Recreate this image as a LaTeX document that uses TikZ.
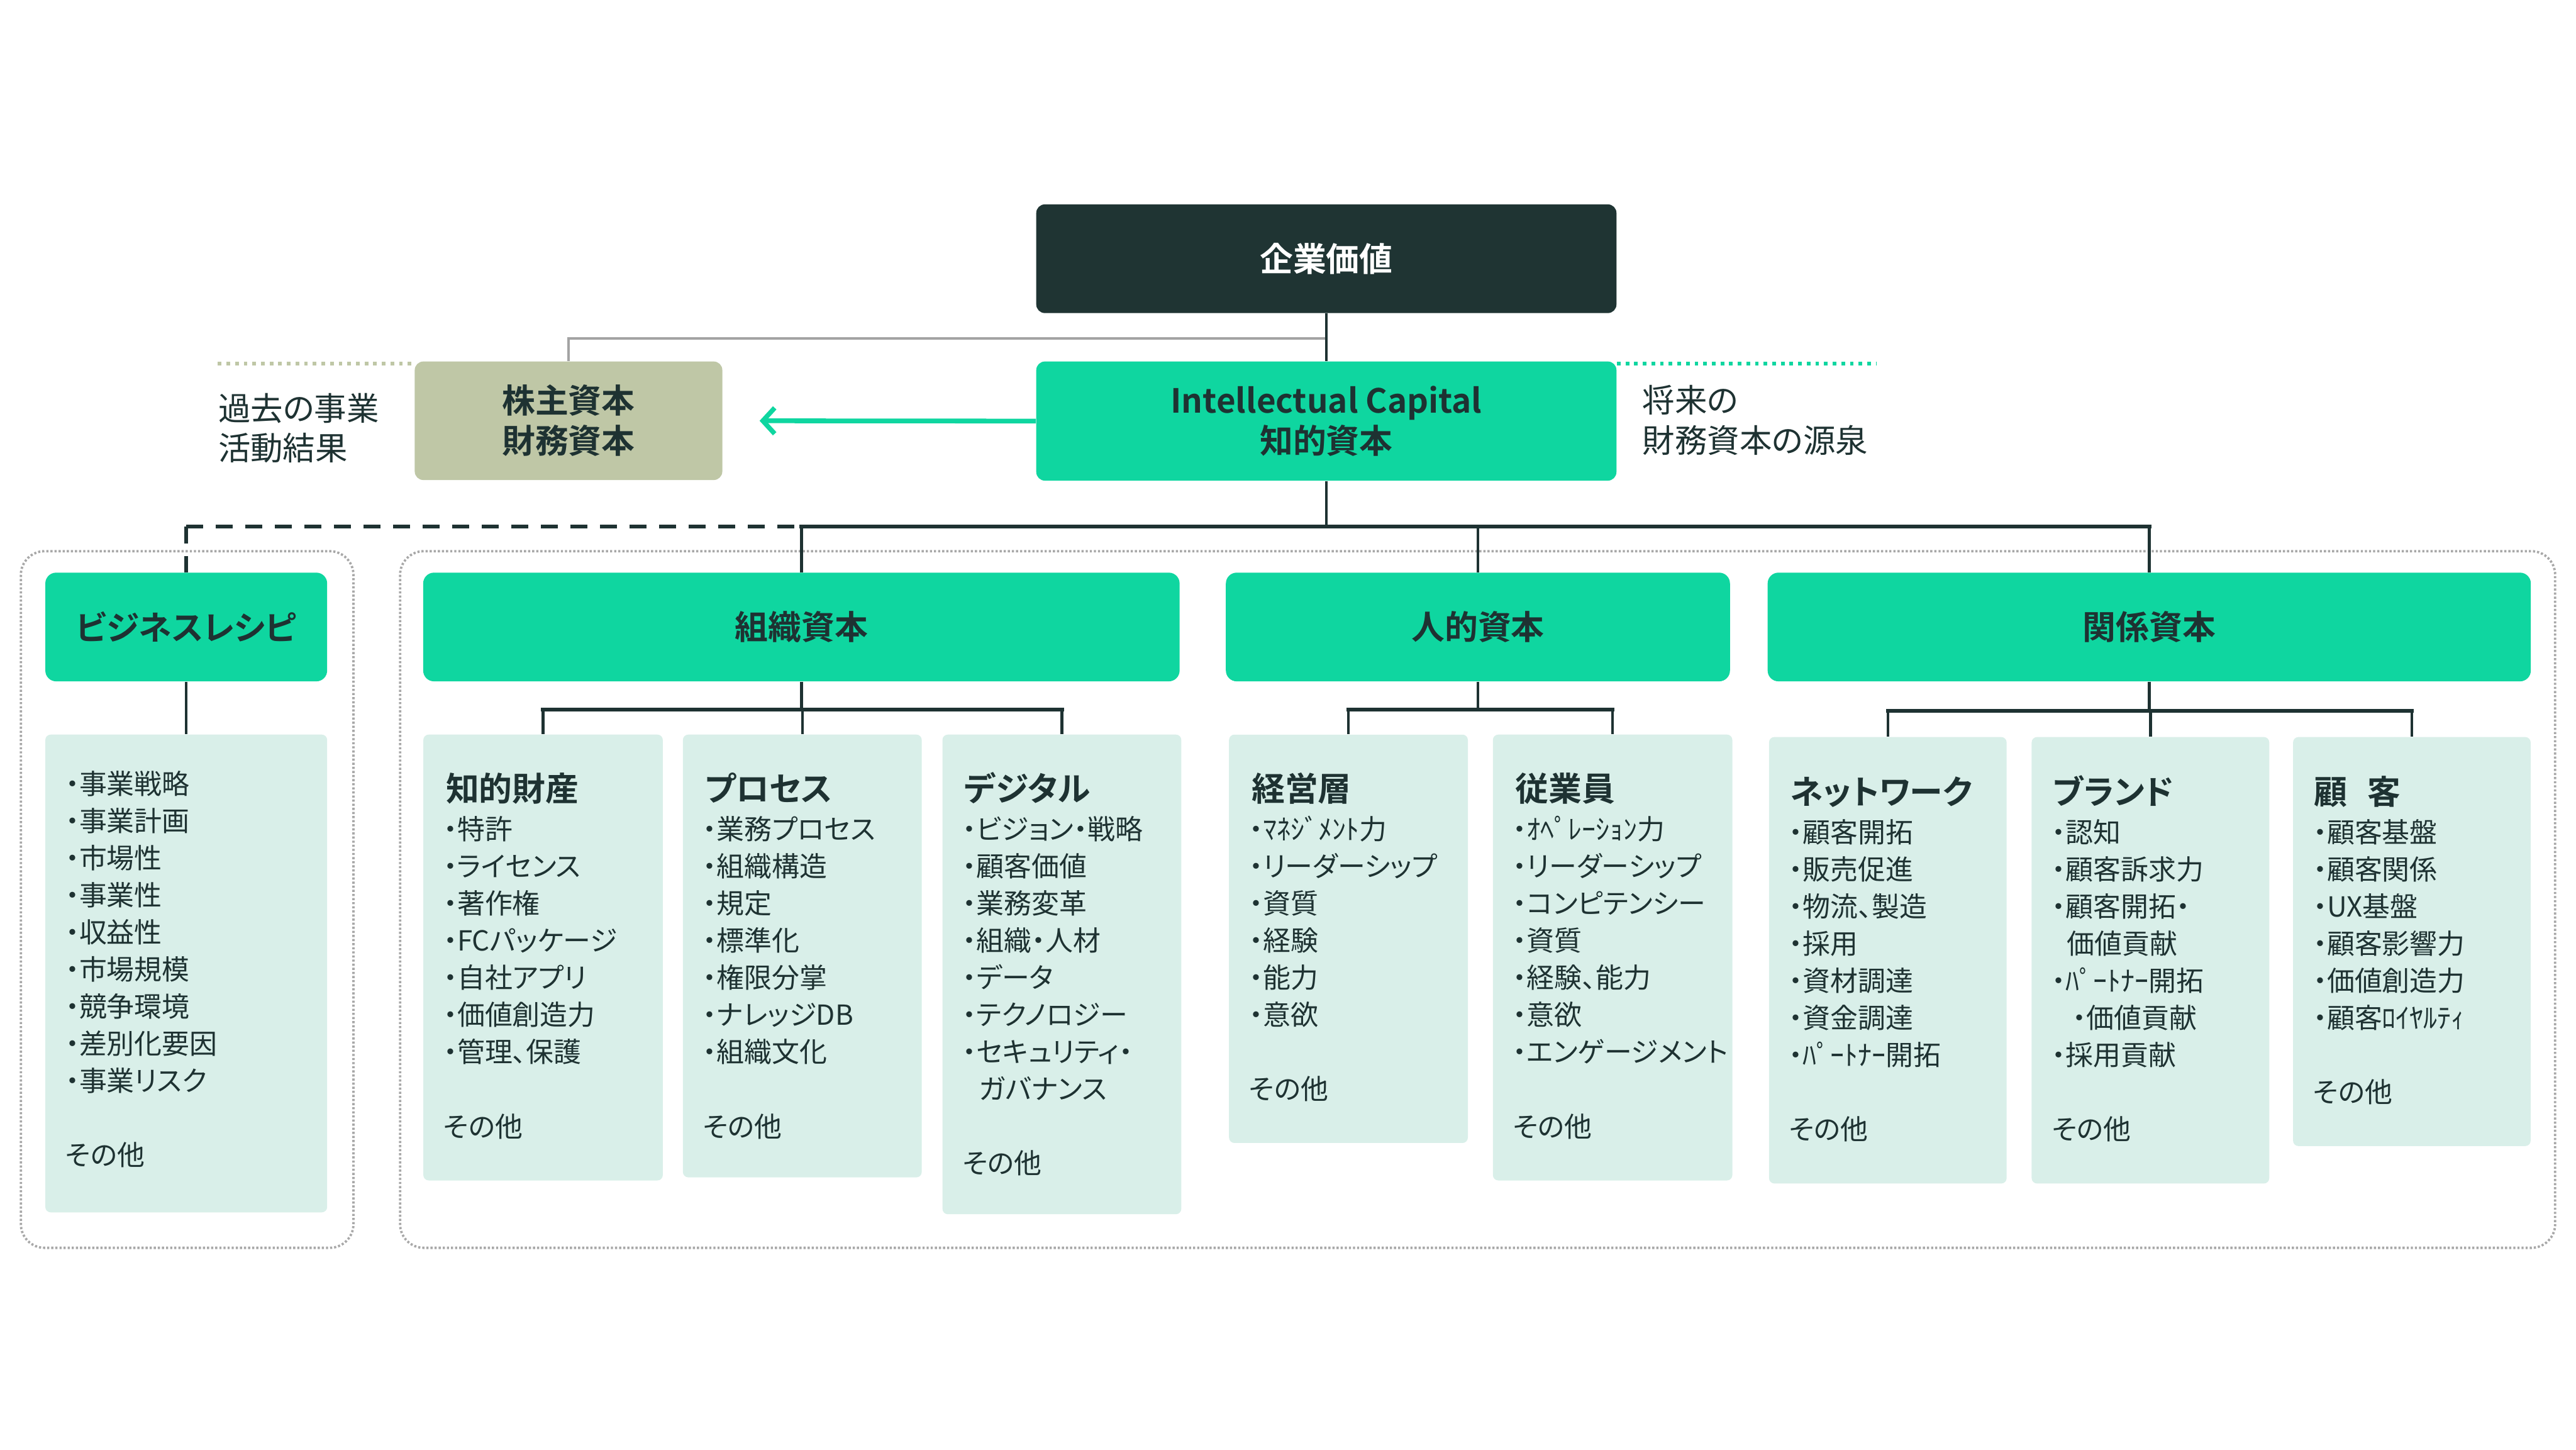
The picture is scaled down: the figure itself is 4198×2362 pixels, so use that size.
\documentclass[tikz,border=0pt]{standalone}
\usepackage{fontspec}
\setmainfont{Noto Sans CJK JP}[RawFeature={+palt}, BoldFont={* Bold}]
\usepackage{xcolor}
\usetikzlibrary{arrows.meta,positioning}
\definecolor{valdark}{HTML}{1F3433}
\definecolor{icgreen}{HTML}{0FD6A0}
\definecolor{finolive}{HTML}{BFC7A6}
\definecolor{listmint}{HTML}{D9EFE9}
\definecolor{inkdark}{HTML}{1E3232}
\definecolor{linkgray}{HTML}{A3A3A3}
\definecolor{framegray}{HTML}{A8A8A8}
\newcommand{\hdfont}{\fontsize{15.4}{18.6}\selectfont}
\newcommand{\lsfont}{\fontsize{12.8}{17.2}\selectfont}
\tikzset{
  valbox/.style={fill=valdark, rounded corners=4pt, inner sep=0pt, text=white, font=\hdfont\bfseries},
  icbox/.style={fill=icgreen, rounded corners=4pt, inner sep=0pt, align=center, text=inkdark, font=\hdfont\bfseries},
  finbox/.style={fill=finolive, rounded corners=4pt, inner sep=0pt, align=center, text=inkdark, font=\hdfont\bfseries},
  headbox/.style={fill=icgreen, rounded corners=5pt, inner sep=0pt, minimum height=1.77cm, text=inkdark, font=\hdfont\bfseries},
  listbox/.style={fill=listmint, rounded corners=2.5pt, inner sep=0pt},
  coltitle/.style={anchor=base west, inner sep=0pt, text=inkdark, font=\hdfont\bfseries},
  % multi-line: base anchor sits on the last line (その他)
  coltext/.style={anchor=base west, inner sep=0pt, align=left, text=inkdark, font=\lsfont},
  sidetxt/.style={anchor=west, inner sep=0pt, align=left, text=inkdark, font=\fontsize{15}{18.5}\selectfont},
  link/.style={draw=inkdark, line width=1.3pt},
  busline/.style={draw=inkdark, line width=1.9pt, line cap=rect},
  dashbus/.style={draw=inkdark, line width=1.8pt, dash pattern=on 7.7pt off 6pt},
  graylink/.style={draw=linkgray, line width=1.2pt},
  pastdots/.style={draw=finolive, line width=1.7pt, dash pattern=on 1.7pt off 2.3pt},
  futuredots/.style={draw=icgreen, line width=1.7pt, dash pattern=on 1.7pt off 2.3pt},
  groupframe/.style={draw=framegray, line width=1.1pt, dash pattern=on 1pt off 0.9pt, rounded corners=11pt},
  arr/.style={-{Straight Barb[length=5.5pt,width=12pt]}, draw=icgreen, line width=2.2pt},
}

\begin{document}
\begin{tikzpicture}[x=0.01cm, y=-0.01cm]
\useasboundingbox (0,0) rectangle (4198,2362);

% dotted group frames
\draw[groupframe] (34,898) rectangle (576,2033);
\draw[groupframe] (652,898) rectangle (4164,2033);

% top row
\node[valbox, minimum width=9.45cm, minimum height=1.77cm] (topval) at (2161.5,421.5) {企業価値};
\node[icbox, minimum width=9.45cm, minimum height=1.94cm] (icap) at (2161.5,686) {Intellectual Capital\\知的資本};
\node[finbox, minimum width=5.01cm, minimum height=1.93cm] (fincap) at (926.5,685.5) {株主資本\\財務資本};
\node[sidetxt] (pasttxt) at (355,697.5) {過去の事業\\活動結果};
\node[sidetxt] (futuretxt) at (2676,684.5) {将来の\\財務資本の源泉};

\coordinate (pastend) at (355,592);
\coordinate (futureend) at (3057,592);
\coordinate (grayjoin) at (2161.5,551);
\draw[pastdots] (pastend) -- (fincap.north west |- pastend);
\draw[futuredots] (icap.north east |- futureend) -- (futureend);
\draw[graylink] (fincap.north) |- (grayjoin);
\draw[link] (topval) -- (icap);
\draw[arr, shorten >=0.6cm] (icap.west) -- (fincap.east);

% capital headers
\node[headbox, minimum width=4.59cm] (bizhead) at (303.5,1021.5) {ビジネスレシピ};
\node[headbox, minimum width=12.32cm] (orghead) at (1306,1021.5) {組織資本};
\node[headbox, minimum width=8.21cm] (humhead) at (2408.5,1021.5) {人的資本};
\node[headbox, minimum width=12.43cm] (relhead) at (3502.5,1021.5) {関係資本};

% bus
\coordinate (bus) at (2161.5,858);
\draw[link] (icap) -- (bus);
\draw[dashbus] (bizhead.north |- bus) -- (bizhead.north);
\draw[dashbus] (bizhead.north |- bus) -- (orghead.north |- bus);
\draw[busline] (orghead.north |- bus) -- (relhead.north |- bus);
\draw[link] (orghead.north |- bus) -- (orghead.north);
\draw[link] (humhead.north |- bus) -- (humhead.north);
\draw[link] (relhead.north |- bus) -- (relhead.north);

% detail boxes
\node[listbox, minimum width=4.59cm, minimum height=7.78cm] (bizlist) at (303.5,1586) {};
\node[listbox, minimum width=3.90cm, minimum height=7.26cm] (iplist) at (885,1560) {};
\node[listbox, minimum width=3.89cm, minimum height=7.21cm] (proclist) at (1307.5,1557.5) {};
\node[listbox, minimum width=3.89cm, minimum height=7.81cm] (digilist) at (1730.5,1587.5) {};
\node[listbox, minimum width=3.89cm, minimum height=6.65cm] (mgmtlist) at (2197.5,1529.5) {};
\node[listbox, minimum width=3.90cm, minimum height=7.26cm] (stafflist) at (2628,1560) {};
\node[listbox, minimum width=3.87cm, minimum height=7.27cm] (netlist) at (3076.5,1564.5) {};
\node[listbox, minimum width=3.87cm, minimum height=7.27cm] (brandlist) at (3504.5,1564.5) {};
\node[listbox, minimum width=3.87cm, minimum height=6.66cm] (custlist) at (3930.5,1534) {};

% brackets
\coordinate (orgbar) at (1306,1156);
\coordinate (humbar) at (2408.5,1156);
\coordinate (relbar) at (3502.5,1158);
\draw[link] (bizhead) -- (bizlist);
\draw[link] (orghead) -- (orgbar);
\draw[link] (humhead) -- (humbar);
\draw[link] (relhead) -- (relbar);
\draw[busline] (iplist.north |- orgbar) -- (digilist.north |- orgbar);
\draw[busline] (mgmtlist.north |- humbar) -- (stafflist.north |- humbar);
\draw[busline] (netlist.north |- relbar) -- (custlist.north |- relbar);
\foreach \c in {iplist,proclist,digilist}
  \draw[link] (\c.north |- orgbar) -- (\c.north);
\foreach \c in {mgmtlist,stafflist}
  \draw[link] (\c.north |- humbar) -- (\c.north);
\foreach \c in {netlist,brandlist,custlist}
  \draw[link] (\c.north |- relbar) -- (\c.north);

% list texts
\node[coltext] (biztxt) at (106,1899) {・事業戦略\\・事業計画\\・市場性\\・事業性\\・収益性\\・市場規模\\・競争環境\\・差別化要因\\・事業リスク\\[17.2pt]その他};

\node[coltitle] (iptitle) at (726,1305) {知的財産};
\node[coltext] (iptxt) at (722,1852) {・特許\\・ライセンス\\・著作権\\・FCパッケージ\\・自社アプリ\\・価値創造力\\・管理、保護\\[17.2pt]その他};

\node[coltitle] (proctitle) at (1148,1305) {プロセス};
\node[coltext] (proctxt) at (1145,1852) {・業務プロセス\\・組織構造\\・規定\\・標準化\\・権限分掌\\・ナレッジDB\\・組織文化\\[17.2pt]その他};

\node[coltitle] (digititle) at (1571,1305) {デジタル};
\node[coltext] (digitxt) at (1568,1912) {・ビジョン・戦略\\・顧客価値\\・業務変革\\・組織・人材\\・データ\\・テクノロジー\\・セキュリティ・\\\hspace{0.6em}ガバナンス\\[17.2pt]その他};

\node[coltitle] (mgmttitle) at (2039,1305) {経営層};
\node[coltext] (mgmttxt) at (2035,1791) {・ﾏﾈｼﾞﾒﾝﾄ力\\・リーダーシップ\\・資質\\・経験\\・能力\\・意欲\\[17.2pt]その他};

\node[coltitle] (stafftitle) at (2469,1305) {従業員};
\node[coltext] (stafftxt) at (2465,1852) {・ｵﾍﾟﾚｰｼｮﾝ力\\・リーダーシップ\\・コンピテンシー\\・資質\\・経験、能力\\・意欲\\・エンゲージメント\\[17.2pt]その他};

\node[coltitle] (nettitle) at (2917,1310) {ネットワーク};
\node[coltext] (nettxt) at (2915,1857) {・顧客開拓\\・販売促進\\・物流、製造\\・採用\\・資材調達\\・資金調達\\・ﾊﾟｰﾄﾅｰ開拓\\[17.2pt]その他};

\node[coltitle] (brandtitle) at (3345,1310) {ブランド};
\node[coltext] (brandtxt) at (3343,1857) {・認知\\・顧客訴求力\\・顧客開拓・\\\hspace{0.55em}価値貢献\\・ﾊﾟｰﾄﾅｰ開拓\\\hspace{0.75em}・価値貢献\\・採用貢献\\[17.2pt]その他};

\node[coltitle] (custtitle) at (3770,1310) {顧\hspace{0.62em}客};
\node[coltext] (custtxt) at (3769,1796) {・顧客基盤\\・顧客関係\\・UX基盤\\・顧客影響力\\・価値創造力\\・顧客ﾛｲﾔﾙﾃｨ\\[17.2pt]その他};
\end{tikzpicture}
\end{document}
